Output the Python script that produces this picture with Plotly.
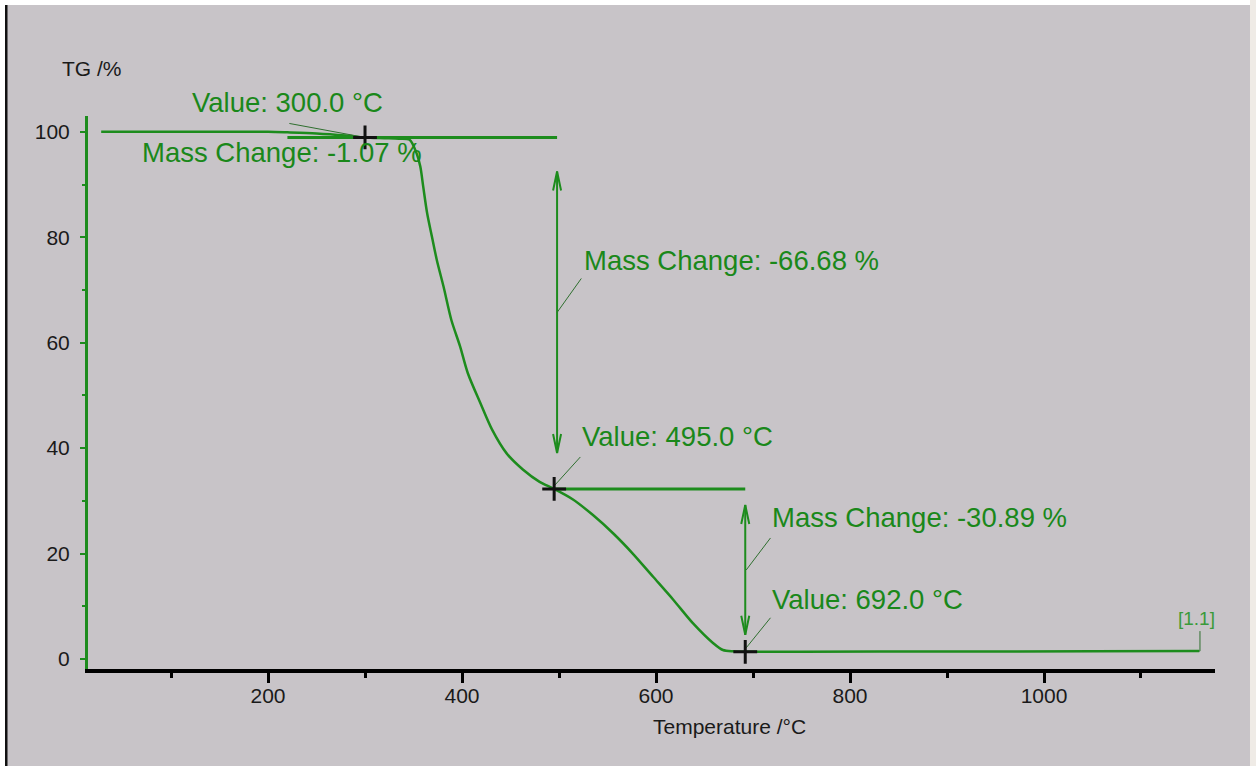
import plotly.graph_objects as go

# ---------------- data ----------------
temperature_c = [28, 100, 200, 220, 250, 280, 300, 320, 335, 346,
                 353, 357, 360, 364, 369, 374, 381, 389, 398, 406,
                 419, 431, 446, 463, 480, 495, 514, 535, 556, 576,
                 597, 618, 638, 659, 669, 680, 692, 750, 900, 1050,
                 1160]
tg_percent = [100.0, 100.0, 100.0, 99.9, 99.7, 99.3, 98.93, 98.8, 98.7, 98.5,
              96.0, 93.4, 89.6, 84.6, 80.1, 75.7, 70.6, 64.3, 59.3, 54.2,
              48.5, 43.5, 39.0, 35.9, 33.6, 32.25, 30.3, 27.3, 23.8, 20.0,
              15.6, 11.2, 6.8, 3.0, 1.7, 1.45, 1.36, 1.38, 1.42, 1.46,
              1.5]

step_temps = [300.0, 495.0, 692.0]          # evaluated temperatures
mass_changes = [-1.07, -66.68, -30.89]      # mass change per step, %
start_mass = 100.0

x_tick_values = [200, 400, 600, 800, 1000]
x_tick_labels = ["200", "400", "600", "800", "1000"]
y_tick_values = [0, 20, 40, 60, 80, 100]
y_tick_labels = ["0", "20", "40", "60", "80", "100"]
segment_label = "[1.1]"

# ---------------- derived ----------------
levels = []
m = start_mass
for dm in mass_changes:
    m = m + dm
    levels.append(m)

GREEN = "#1d8c1d"
TXT_GREEN = "#1a881a"
LEADER = "#2f6f2f"
BG = "#c8c4c8"
FONT = "Liberation Sans, Arial, sans-serif"

X_RANGE = [14.4, 1176.3]
Y_RANGE = [-1.9, 103.0]
L, R, T, B = 88, 1256 - 1215, 116, 766 - 669
PW, PH = 1215 - 88, 669 - 116
XU = (X_RANGE[1] - X_RANGE[0]) / PW   # deg per px
YU = (Y_RANGE[1] - Y_RANGE[0]) / PH   # % per px


def px(xp):
    return (xp - L) / PW


def py(yp):
    return (669 - yp) / PH


def xpaper(v):
    return (v - X_RANGE[0]) / (X_RANGE[1] - X_RANGE[0])


def ypaper(v):
    return (v - Y_RANGE[0]) / (Y_RANGE[1] - Y_RANGE[0])


fig = go.Figure()

# TG curve
fig.add_trace(go.Scatter(x=temperature_c, y=tg_percent, mode="lines",
                         line=dict(color=GREEN, width=2.5, shape="spline", smoothing=0.8),
                         hoverinfo="skip"))

# step level lines
lvl_x = [step_temps[0] - 80, step_temps[1] + 3, None, step_temps[1], step_temps[2]]
lvl_y = [levels[0], levels[0], None, levels[1], levels[1]]
fig.add_trace(go.Scatter(x=lvl_x, y=lvl_y, mode="lines",
                         line=dict(color=GREEN, width=3), hoverinfo="skip"))

# double arrows
arrow_specs = [
    (step_temps[1] + 3, levels[0] - 34 * YU, levels[1] + 36 * YU),
    (step_temps[2], levels[1] - 16 * YU, levels[2] + 17 * YU),
]
ax_x, ax_y = [], []
hl, hw = 19 * YU, 4 * XU
for xa, ytop, ybot in arrow_specs:
    ax_x += [xa, xa, None]
    ax_y += [ytop, ybot, None]
    ax_x += [xa - hw, xa, xa + hw, None]
    ax_y += [ytop - hl, ytop, ytop - hl, None]
    ax_x += [xa - hw, xa, xa + hw, None]
    ax_y += [ybot + hl, ybot, ybot + hl, None]
fig.add_trace(go.Scatter(x=ax_x, y=ax_y, mode="lines",
                         line=dict(color=GREEN, width=2), hoverinfo="skip"))

# leader lines
ld_x, ld_y = [], []
leaders = [
    (step_temps[0] - 78, levels[0] + 14 * YU, step_temps[0], levels[0]),
    (step_temps[1] + 3, levels[0] - 175 * YU, step_temps[1] + 28, levels[0] - 141 * YU),
    (step_temps[1] - 1, levels[1] + 2 * YU, step_temps[1] + 27, levels[1] + 32 * YU),
    (step_temps[2] + 1, levels[1] - 81 * YU, step_temps[2] + 26, levels[1] - 49 * YU),
    (step_temps[2] + 1, levels[2] + 4 * YU, step_temps[2] + 26, levels[2] + 34 * YU),
]
for x0, y0, x1, y1 in leaders:
    ld_x += [x0, x1, None]
    ld_y += [y0, y1, None]
# connector to segment label
ld_x += [temperature_c[-1], temperature_c[-1] + 0.8, temperature_c[-1] + 0.8, None]
ld_y += [tg_percent[-1], tg_percent[-1], tg_percent[-1] + 20 * YU, None]
fig.add_trace(go.Scatter(x=ld_x, y=ld_y, mode="lines",
                         line=dict(color=LEADER, width=1), hoverinfo="skip"))

# cross markers
fig.add_trace(go.Scatter(x=step_temps, y=levels, mode="markers",
                         marker=dict(symbol="cross-thin", size=17,
                                     line=dict(color="#111111", width=3)),
                         hoverinfo="skip"))

annos = []
afont = dict(family=FONT, size=27.5, color=TXT_GREEN)


def label(x_data, y_data, text, **kw):
    d = dict(x=xpaper(x_data), y=ypaper(y_data), xref="paper", yref="paper",
             text=text, showarrow=False, xanchor="left", yanchor="middle", font=afont)
    d.update(kw)
    annos.append(d)


label(step_temps[0] - 180, levels[0] + 6.6, f"Value: {step_temps[0]:.1f} °C")
label(step_temps[0] - 232, levels[0] - 2.9, f"Mass Change: {mass_changes[0]:.2f} %")
label(step_temps[1] + 29, levels[0] - 23.4, f"Mass Change: {mass_changes[1]:.2f} %")
label(step_temps[1] + 27, levels[1] + 9.9, f"Value: {step_temps[1]:.1f} °C")
label(step_temps[2] + 26, levels[1] - 5.4, f"Mass Change: {mass_changes[2]:.2f} %")
label(step_temps[2] + 26, levels[2] + 10.0, f"Value: {step_temps[2]:.1f} °C")
label(temperature_c[-1] - 3, tg_percent[-1] + 6.1, segment_label, xanchor="center",
      font=dict(family=FONT, size=19, color="#3a9a3a"))

# axis titles
annos.append(dict(x=px(60), y=py(68), xref="paper", yref="paper", text="TG /%",
                  showarrow=False, xanchor="left", yanchor="middle",
                  font=dict(family=FONT, size=21, color="#1a1a1a")))
annos.append(dict(x=px(729), y=py(726), xref="paper", yref="paper",
                  text="Temperature /°C", showarrow=False, xanchor="center",
                  yanchor="middle", font=dict(family=FONT, size=21, color="#1a1a1a")))

shapes = [
    dict(type="rect", xref="paper", yref="paper", x0=px(0), x1=px(1256), y0=py(0), y1=py(5),
         fillcolor="white", line=dict(width=0), layer="above"),
    dict(type="rect", xref="paper", yref="paper", x0=px(0), x1=px(5), y0=py(0), y1=py(766),
         fillcolor="white", line=dict(width=0), layer="above"),
    dict(type="rect", xref="paper", yref="paper", x0=px(5), x1=px(7.5), y0=py(5), y1=py(766),
         fillcolor="#111111", line=dict(width=0), layer="above"),
    dict(type="rect", xref="paper", yref="paper", x0=px(1250), x1=px(1256), y0=py(0), y1=py(766),
         fillcolor="#efebe6", line=dict(width=0), layer="above"),
]

fig.update_layout(
    width=1256, height=766,
    margin=dict(l=L, r=R, t=T, b=B, pad=0),
    paper_bgcolor=BG, plot_bgcolor=BG,
    showlegend=False,
    annotations=annos, shapes=shapes,
    font=dict(family=FONT),
)
fig.update_xaxes(
    range=X_RANGE, showgrid=False, zeroline=False,
    showline=True, linecolor="#000000", linewidth=4,
    tickmode="array", tickvals=x_tick_values, ticktext=x_tick_labels,
    ticks="outside", ticklen=10, tickwidth=3, tickcolor="#000000",
    tickfont=dict(family=FONT, size=21, color="#1a1a1a"),
    ticklabelstandoff=-5,
    minor=dict(tickmode="linear", tick0=100, dtick=200, ticks="outside",
               ticklen=5, tickwidth=3, tickcolor="#000000"),
)
fig.update_yaxes(
    range=Y_RANGE, showgrid=False, zeroline=False,
    showline=True, linecolor=GREEN, linewidth=3,
    tickmode="array", tickvals=y_tick_values, ticktext=y_tick_labels,
    ticks="outside", ticklen=5, tickwidth=2, tickcolor=GREEN,
    tickfont=dict(family=FONT, size=21, color="#1a1a1a"),
    ticklabelstandoff=6,
    minor=dict(tickmode="linear", tick0=10, dtick=20, ticks="outside",
               ticklen=3, tickwidth=2, tickcolor=GREEN),
)

fig.write_html("out.html", config={"displayModeBar": False},
               post_script="document.body.style.margin='0';document.body.style.overflow='hidden';")
